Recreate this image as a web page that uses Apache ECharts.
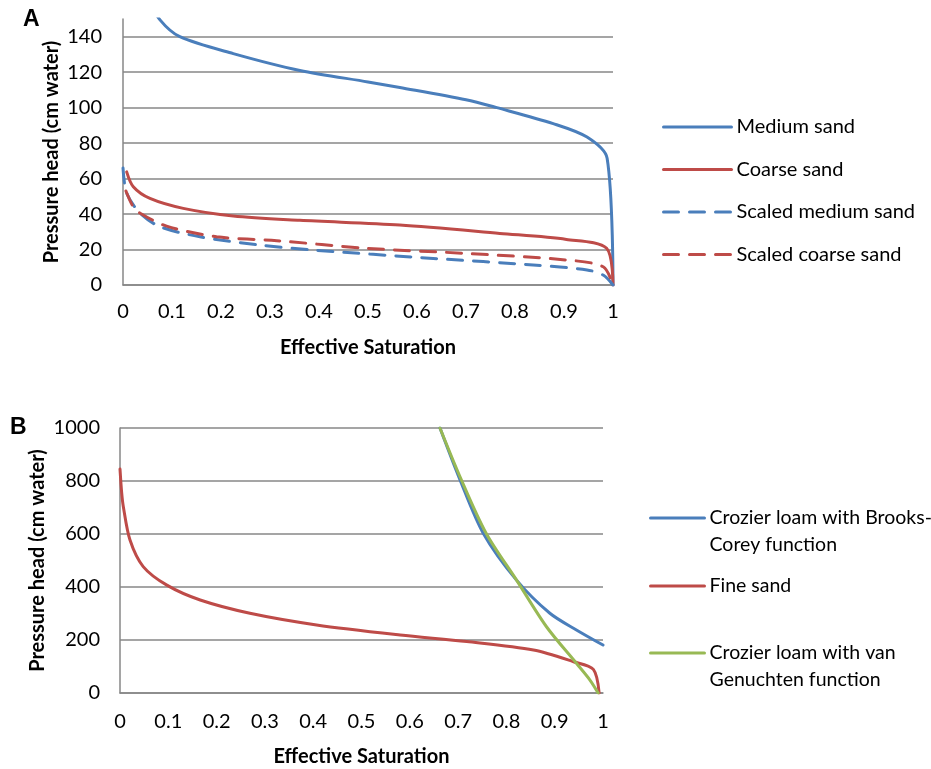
<!DOCTYPE html>
<html>
<head>
<meta charset="utf-8">
<script src="https://cdn.jsdelivr.net/npm/echarts@6/dist/echarts.min.js"></script>
<style>
  html, body { margin: 0; padding: 0; background: #ffffff; }
  #chart { width: 931px; height: 769px; }
</style>
</head>
<body>
<div id="chart"></div>
<script>
// ---- Panel A: sands and their scaled curves ----
const xTicks = [0, 0.1, 0.2, 0.3, 0.4, 0.5, 0.6, 0.7, 0.8, 0.9, 1];
const yTicksA = [0, 20, 40, 60, 80, 100, 120, 140];
const yTicksB = [0, 200, 400, 600, 800, 1000];

const mediumSandSe = [0.05, 0.0755, 0.116, 0.225, 0.361, 0.5, 0.565, 0.7, 0.763, 0.878, 0.947, 0.988, 1.0];
const mediumSandH  = [162, 149.5, 140, 130.5, 121, 114.5, 111.4, 104.5, 100, 91, 83.4, 71.5, 0];

const coarseSandSe = [0.0075, 0.021, 0.055, 0.123, 0.225, 0.361, 0.565, 0.769, 0.905, 0.987, 1.0];
const coarseSandH  = [63.8, 55.4, 48.8, 43.2, 38.9, 36.5, 33.8, 29.1, 25.7, 20.7, 0];

const scaledMediumSe = [0, 0.0075, 0.035, 0.0755, 0.157, 0.28, 0.388, 0.633, 0.837, 0.947, 0.98, 1.0];
const scaledMediumH  = [66, 51.8, 40.5, 32.9, 27.2, 22.5, 19.7, 15, 11.3, 8.5, 5.6, 0];

const scaledCoarseSe = [0.006, 0.021, 0.035, 0.089, 0.191, 0.314, 0.497, 0.701, 0.905, 0.98, 1.0];
const scaledCoarseH  = [53, 44, 40.5, 33.2, 27.2, 25, 20.7, 17.8, 14.1, 10.3, 0];

// ---- Panel B: loam and fine sand ----
const brooksCoreySe = [0.6625, 0.704, 0.752, 0.821, 0.89, 0.945, 1.0];
const brooksCoreyH  = [1000, 804, 603, 426, 301, 238, 181];

const fineSandSe = [0, 0.0035, 0.0069, 0.0207, 0.048, 0.097, 0.166, 0.269, 0.407, 0.58, 0.718, 0.856, 0.939, 0.98, 0.992];
const fineSandH  = [845, 755, 703, 577, 477, 407, 351, 301, 257, 219, 194, 162, 118, 89, 0];

const vanGenuchtenSe = [0.6625, 0.704, 0.758, 0.821, 0.883, 0.945, 0.973, 0.99];
const vanGenuchtenH  = [1000, 816, 603, 426, 250, 112, 49, 0];

const BLUE = '#4A7EBB';
const RED = '#BE4B48';
const GREEN = '#98B954';
const GRID_GRAY = '#878787';
const FONT = 'Lato';
const FS = 20;

function pairs(xs, ys) { return xs.map((x, i) => [x, ys[i]]); }

function xAxisFor(gridIndex, labelMargin, nameGap) {
  return {
    type: 'value', gridIndex, min: 0, max: 1, interval: 0.1,
    name: 'Effective Saturation', nameLocation: 'middle', nameGap, nameMoveOverlap: false,
    nameTextStyle: { fontFamily: FONT, fontSize: FS, fontWeight: 'bold', color: '#000' },
    axisLine: { show: true, onZero: false, lineStyle: { color: GRID_GRAY, width: 1.5 } },
    axisTick: { show: false },
    splitLine: { show: false },
    axisLabel: {
      margin: labelMargin, color: '#000', fontFamily: FONT, fontSize: FS,
      formatter: v => {
        const t = +(+v).toFixed(1);
        return xTicks.includes(t) ? String(t) : '';
      }
    }
  };
}

function yAxisFor(gridIndex, ticks, max, interval, labelMargin, nameGap, showTop) {
  return {
    type: 'value', gridIndex, min: 0, max, interval,
    name: 'Pressure head (cm water)', nameLocation: 'middle', nameGap, nameRotate: 90, nameMoveOverlap: false,
    nameTextStyle: { fontFamily: FONT, fontSize: FS, fontWeight: 'bold', color: '#000' },
    axisLine: { show: true, lineStyle: { color: GRID_GRAY, width: 1.5 } },
    axisTick: { show: false },
    splitLine: { show: true, showMaxLine: showTop, lineStyle: { color: GRID_GRAY, width: 1.5 } },
    axisLabel: {
      margin: labelMargin, color: '#000', fontFamily: FONT, fontSize: FS, showMaxLabel: showTop,
      formatter: v => ticks.includes(+v) ? String(+v) : ''
    }
  };
}

function curve(name, xi, xs, ys, color, dashed) {
  return {
    name, type: 'line', xAxisIndex: xi, yAxisIndex: xi,
    data: pairs(xs, ys),
    symbol: 'none', showSymbol: false,
    smooth: 0.3, clip: true,
    lineStyle: { color, width: 3, type: dashed ? [15, 11] : 'solid', cap: 'round' },
    itemStyle: { color },
    emphasis: { disabled: true },
    animation: false
  };
}

const legendText = { fontFamily: FONT, fontSize: FS, color: '#000', lineHeight: 22 };
const legendTextB = { fontFamily: FONT, fontSize: 19.5, color: '#000', lineHeight: 27 };
// Two-line legend entries get a blank leading line so the first text line sits level with the icon.
const firstLineOnIcon = name => '\n' + name;
const noMarker = { opacity: 0 };
const legendLine = { width: 3 };

const option = {
  animation: false,
  backgroundColor: '#ffffff',
  graphic: [
    { type: 'text', left: 23, top: 8, style: { text: 'A', font: 'bold 23px "Liberation Sans"', fill: '#000' } },
    { type: 'text', left: 10, top: 416, style: { text: 'B', font: 'bold 23px "Liberation Sans"', fill: '#000' } }
  ],
  grid: [
    { left: 123, top: 19, width: 490, height: 266, containLabel: false, outerBoundsMode: 'none' },
    { left: 120, top: 428, width: 483, height: 265, containLabel: false, outerBoundsMode: 'none' }
  ],
  xAxis: [ xAxisFor(0, 17, 53), xAxisFor(1, 19, 54) ],
  yAxis: [
    yAxisFor(0, yTicksA, 150, 20, 21, 61, false),
    yAxisFor(1, yTicksB, 1000, 200, 20, 72, true)
  ],
  legend: [
    {
      orient: 'vertical', left: 662, top: 116, padding: 0, itemGap: 20.5,
      itemWidth: 68, itemHeight: 14, textStyle: legendText, itemStyle: noMarker, lineStyle: legendLine,
      selectedMode: false,
      data: ['Medium sand', 'Coarse sand', 'Scaled medium sand', 'Scaled coarse sand']
    },
    {
      orient: 'vertical', left: 649, top: 477.5, padding: 0, itemWidth: 54, itemHeight: 14,
      textStyle: legendTextB, itemStyle: noMarker, lineStyle: legendLine, selectedMode: false,
      formatter: firstLineOnIcon,
      data: ['Crozier loam with Brooks-\nCorey function']
    },
    {
      orient: 'vertical', left: 649, top: 572.5, padding: 0, itemWidth: 54, itemHeight: 14,
      textStyle: legendTextB, itemStyle: noMarker, lineStyle: legendLine, selectedMode: false,
      data: ['Fine sand']
    },
    {
      orient: 'vertical', left: 649, top: 612.5, padding: 0, itemWidth: 54, itemHeight: 14,
      textStyle: legendTextB, itemStyle: noMarker, lineStyle: legendLine, selectedMode: false,
      formatter: firstLineOnIcon,
      data: ['Crozier loam with van\nGenuchten function']
    }
  ],
  series: [
    curve('Medium sand', 0, mediumSandSe, mediumSandH, BLUE, false),
    curve('Coarse sand', 0, coarseSandSe, coarseSandH, RED, false),
    curve('Scaled medium sand', 0, scaledMediumSe, scaledMediumH, BLUE, true),
    curve('Scaled coarse sand', 0, scaledCoarseSe, scaledCoarseH, RED, true),
    curve('Crozier loam with Brooks-\nCorey function', 1, brooksCoreySe, brooksCoreyH, BLUE, false),
    curve('Fine sand', 1, fineSandSe, fineSandH, RED, false),
    curve('Crozier loam with van\nGenuchten function', 1, vanGenuchtenSe, vanGenuchtenH, GREEN, false)
  ]
};

const chart = echarts.init(document.getElementById('chart'), null, { renderer: 'canvas' });
chart.setOption(option);
</script>
</body>
</html>
